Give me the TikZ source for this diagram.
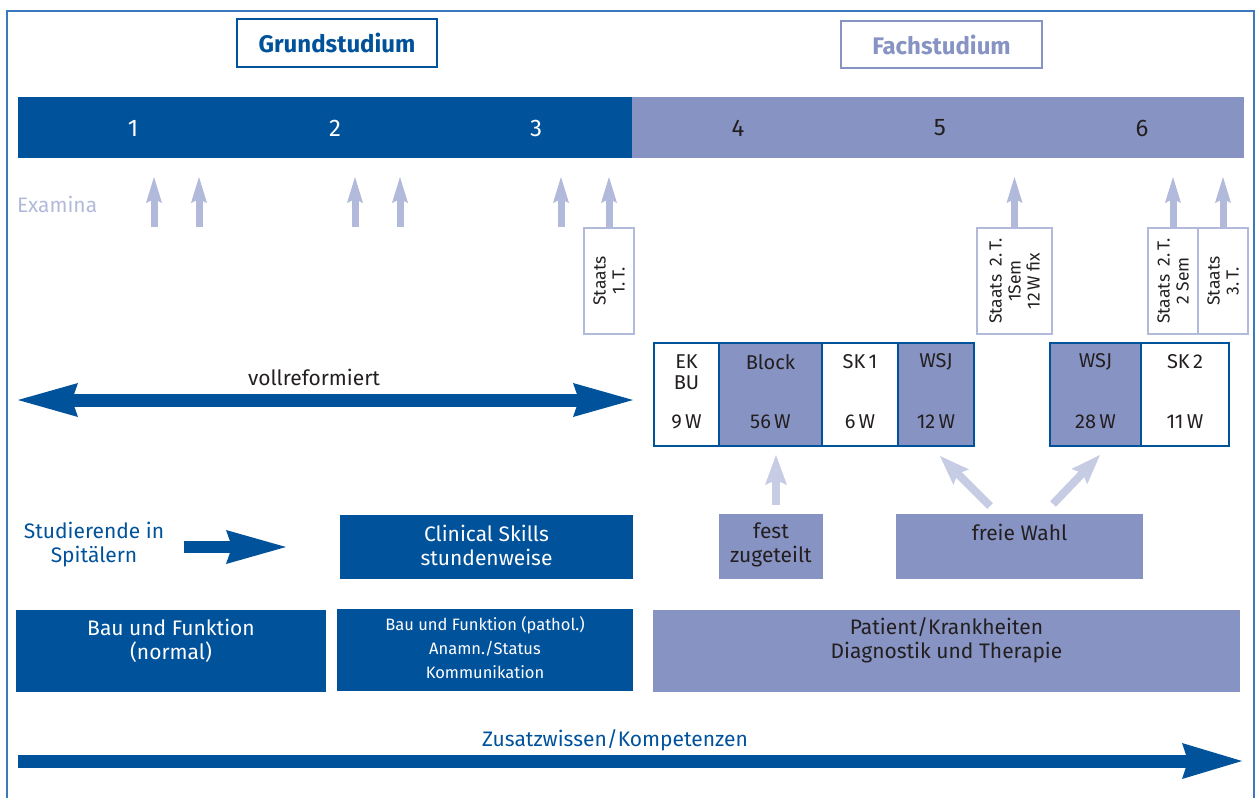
\documentclass[tikz,border=0pt]{standalone}
\usepackage{fontspec}
\setmainfont{Fira Sans}
\usetikzlibrary{arrows.meta}
\definecolor{dblue}{HTML}{00529B}
\definecolor{lilac}{HTML}{8793C3}
\definecolor{exarrow}{HTML}{B2BADB}
\definecolor{softarrow}{HTML}{C6CCE4}
\definecolor{framecol}{HTML}{3B78BE}
\definecolor{ink}{HTML}{231F20}
\tikzset{
  plain/.style={inner sep=0pt, outer sep=0pt},
  f16/.style={font=\fontsize{17.5}{19}\selectfont},
  f20/.style={font=\fontsize{20}{24}\selectfont},
  f21/.style={font=\fontsize{21}{24}\selectfont},
  hdr/.style={plain, draw, line width=1.3pt, fill=white, font=\bfseries\fontsize{24}{28}\selectfont},
  staatsbox/.style={plain, draw=exarrow, line width=1.2pt, fill=white, minimum width=50pt, minimum height=106pt},
  staatstxt/.style={f16, text=ink, align=center, rotate=90},
  cellw/.style={plain, draw=dblue, line width=2pt, fill=white, minimum height=103pt},
  cellp/.style={plain, draw=dblue, line width=2pt, fill=lilac, minimum height=103pt},
  celltxt/.style={f20, text=ink, align=center},
  bluebox/.style={plain, fill=dblue},
  lilacbox/.style={plain, fill=lilac},
  exam/.style={draw=exarrow, line width=7pt,
    -{Stealth[length=26pt, width=16pt, inset=4pt, line width=0pt]}},
  soft/.style={draw=softarrow, line width=8pt,
    -{Stealth[length=30pt, width=22pt, inset=5pt, line width=0pt]}},
  bigarrow/.style={draw=dblue, line width=13pt,
    -{Stealth[length=60pt, width=34pt, inset=6pt, line width=0pt]}},
  bigdouble/.style={draw=dblue, line width=13pt,
    {Stealth[length=60pt, width=34pt, inset=6pt, line width=0pt]}-{Stealth[length=60pt, width=34pt, inset=6pt, line width=0pt]}}
}
\begin{document}
\begin{tikzpicture}[x=1pt, y=-1pt]
\useasboundingbox (0,0) rectangle (1256,798);

% outer frame, open at the bottom
\draw[framecol, line width=2pt] (7,798) -- (7,11) -- (1254,11) -- (1254,798);

% section headings
\node[hdr, draw=dblue, text=dblue, minimum width=200pt, minimum height=48pt] (grund) at (337,43) {Grundstudium};
\node[hdr, draw=lilac, text=lilac, minimum width=201pt, minimum height=47pt] (fach) at (941.5,44.5) {Fachstudium};

% semester bar
\fill[dblue] (18,97) rectangle (632,158);
\fill[lilac] (632,97) rectangle (1244,158);
\foreach \x/\n in {133/1, 335/2, 536/3} \node[plain, font=\fontsize{24}{28}\selectfont, text=white] (sem\n) at (\x,128) {\n};
\foreach \x/\n in {738/4, 940/5, 1142/6} \node[plain, font=\fontsize{24}{28}\selectfont, text=ink] (sem\n) at (\x,128) {\n};

% examinations
\node[plain, f21, text=exarrow, anchor=west] (examina) at (17,204) {Examina};
\foreach \x [count=\i] in {154, 199, 355, 400, 561} {
  \coordinate (ea\i) at (\x,227);
  \coordinate (eb\i) at (\x,177);
  \draw[exam] (ea\i) -- (eb\i);
}

\node[staatsbox] (st1) at (609,281) {};
\node[staatstxt] (st1t) at (st1.center) {Staats\\1.\,T.};
\node[staatsbox, minimum width=75pt] (st2) at (1014.5,281) {};
\node[staatstxt] (st2t) at (st2.center) {Staats\enspace 2.\,T.\\1Sem\\12\,W fix};
\node[staatsbox] (st3) at (1173,281) {};
\node[staatstxt] (st3t) at (st3.center) {Staats\enspace 2.\,T.\\2 Sem};
\node[staatsbox] (st4) at (1223,281) {};
\node[staatstxt] (st4t) at (st4.center) {Staats\\3.\,T.};
\foreach \s in {1,...,4} {
  \coordinate (sttip\s) at ([yshift=51pt]st\s.north);
  \draw[exam] (st\s.north) -- (sttip\s);
}

% rotations of the clinical years
\node[cellw, minimum width=65pt] (ek) at (686.5,394.5) {};
\node[cellp, minimum width=103pt] (block) at (770.5,394.5) {};
\node[cellw, minimum width=76pt] (sk1) at (860,394.5) {};
\node[cellp, minimum width=76pt] (wsj1) at (936,394.5) {};
\node[cellp, minimum width=91pt] (wsj2) at (1095.5,394.5) {};
\node[cellw, minimum width=88pt] (sk2) at (1185,394.5) {};

\node[celltxt, anchor=north, font=\fontsize{20}{21}\selectfont] (ekt) at (686.5,351) {EK\\BU};
\node[celltxt] (blockt) at (770.5,362) {Block};
\node[celltxt] (sk1t) at (860,362) {SK\,1};
\node[celltxt] (wsj1t) at (936,362) {WSJ};
\node[celltxt] (wsj2t) at (1095.5,362) {WSJ};
\node[celltxt] (sk2t) at (1185,362) {SK\,2};
\node[celltxt] (ekw) at (686.5,422) {9\,W};
\node[celltxt] (blockw) at (770.5,422) {56\,W};
\node[celltxt] (sk1w) at (860,422) {6\,W};
\node[celltxt] (wsj1w) at (936,422) {12\,W};
\node[celltxt] (wsj2w) at (1095.5,422) {28\,W};
\node[celltxt] (sk2w) at (1185,422) {11\,W};

% allocation of the rotations
\node[lilacbox, minimum width=104pt, minimum height=65pt] (fest) at (771,546.5) {};
\node[celltxt, f21] (festt) at (771,545) {fest\\zugeteilt};
\node[lilacbox, minimum width=247pt, minimum height=65pt] (frei) at (1019.5,546.5) {};
\node[celltxt, f21] (freit) at (1019.5,532) {freie Wahl};

\coordinate (festfoot) at (776,505);
\coordinate (festtip) at (776,455);
\draw[soft] (festfoot) -- (festtip);
\coordinate (freifootL) at (990,506);
\coordinate (freitipL) at (940,456);
\coordinate (freifootR) at (1053,504);
\coordinate (freitipR) at (1100,455);
\draw[soft] (freifootL) -- (freitipL);
\draw[soft] (freifootR) -- (freitipR);

% reformed track
\node[plain, f21, text=ink] (voll) at (314,377) {vollreformiert};
\coordinate (vollL) at (18,400);
\coordinate (vollR) at (633,400);
\draw[bigdouble] (vollL) -- (vollR);

% students in hospitals
\node[plain, f21, text=dblue, align=center] (stud) at (94,545) {Studierende in\\Spitälern};
\coordinate (studA) at (184,547);
\coordinate (studB) at (286,547);
\draw[bigarrow, line width=12pt] (studA) -- (studB);
\node[bluebox, minimum width=293pt, minimum height=64pt] (clin) at (486.5,547) {};
\node[plain, f21, text=white, align=center] (clint) at (486.5,545) {Clinical Skills\\stundenweise};

% subject areas
\node[bluebox, minimum width=310pt, minimum height=82pt] (bau1) at (171,651) {};
\node[plain, f21, text=white, align=center] (bau1t) at (171,641) {Bau und Funktion\\(normal)};
\node[bluebox, minimum width=296pt, minimum height=82pt] (bau2) at (485,650) {};
\node[plain, font=\fontsize{16.5}{24}\selectfont, text=white, align=center] (bau2t) at (485,648) {Bau und Funktion (pathol.)\\Anamn./Status\\Kommunikation};
\node[lilacbox, minimum width=587pt, minimum height=82pt] (pat) at (946.5,651) {};
\node[plain, f21, text=ink, align=center] (patt) at (946.5,640) {Patient/Krankheiten\\Diagnostik und Therapie};

% additional knowledge
\node[plain, f21, text=dblue] (zus) at (615,740) {Zusatzwissen/Kompetenzen};
\coordinate (zusA) at (18,761);
\coordinate (zusB) at (1242,761);
\draw[bigarrow, -{Stealth[length=60pt, width=36pt, inset=6pt, line width=0pt]}] (zusA) -- (zusB);
\end{tikzpicture}
\end{document}
